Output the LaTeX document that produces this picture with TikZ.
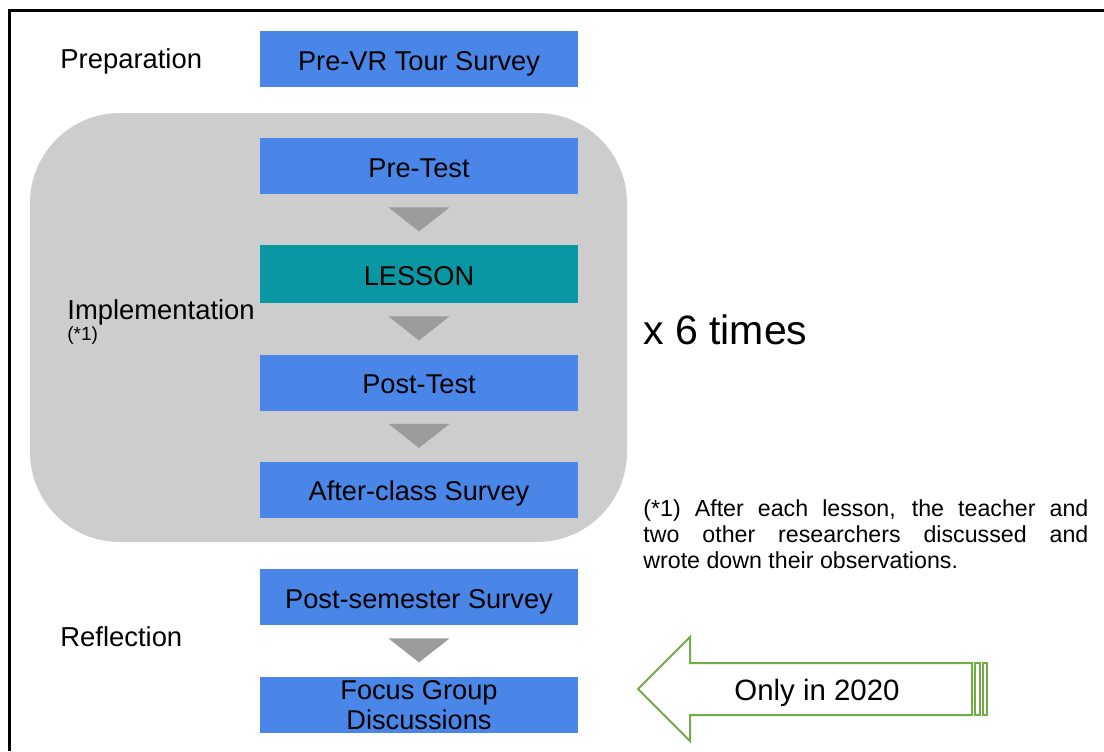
\documentclass[tikz,border=0pt]{standalone}
\usepackage{fontspec}
\setmainfont{Liberation Sans}
\definecolor{boxblue}{HTML}{4A86E8}
\definecolor{lessonteal}{HTML}{0A97A4}
\definecolor{phasegray}{HTML}{CDCDCD}
\definecolor{trigray}{HTML}{9C9C9C}
\definecolor{notegreen}{HTML}{70AD47}

\begin{document}
\begin{tikzpicture}[x=0.5pt,y=-0.5pt,
    stepbox/.style={shape=rectangle,fill=boxblue,minimum width=159pt,minimum height=28pt,inner sep=0pt,text height=12pt,text depth=0.7pt,font=\fontsize{13.6}{15}\selectfont},
    phase/.style={anchor=west,inner sep=0pt,font=\fontsize{13.7}{15}\selectfont},
    tri/.style={fill=trigray},
    arrowline/.style={draw=notegreen,line width=1pt}]
    \useasboundingbox (0,0) rectangle (1104,751);
    \draw[line width=1.5pt] (9.5,751) -- (9.5,10) -- (1104,10);
    % implementation block
    \node[shape=rectangle,fill=phasegray,rounded corners=45pt,minimum width=298.5pt,minimum height=214.5pt] (impl) at (328.5,327.5) {};
    % steps
    \node[stepbox] (survey) at (419,59) {Pre-VR Tour Survey};
    \node[stepbox] (pre) at (419,166) {Pre-Test};
    \node[stepbox,fill=lessonteal,minimum height=29pt] (lesson) at (419,274) {LESSON};
    \node[stepbox] (post) at (419,382.5) {Post-Test};
    \node[stepbox] (after) at (419,489.5) {After-class Survey};
    \node[stepbox] (postsem) at (419,597) {Post-semester Survey};
    \node[stepbox,align=center,text height=,text depth=,font=\fontsize{13.6}{15}\selectfont] (focus) at (419,705) {Focus Group\\Discussions};
    \foreach \a in {pre,lesson,post,postsem}
        \fill[tri] (\a.south) ++(-30.5,13) -- ++(61,0) -- ++(-30.5,24) -- cycle;
    % phase labels
    \node[phase] (prep) at (60,61) {Preparation};
    \node[phase] (implabel) at (67,312) {Implementation};
    \node[phase,font=\fontsize{9.5}{11}\selectfont] (star) at (67,336) {(*1)};
    \node[phase] (refl) at (60,637) {Reflection};
    \node[phase,font=\fontsize{20.5}{24}\selectfont] (times) at (643,330) {x 6 times};
    \node[anchor=west,inner sep=0pt,text width=222.5pt,align=justify,font=\fontsize{11.6}{13}\selectfont] (note) at (643,534)
        {(*1) After each lesson, the teacher and\linebreak two other researchers discussed and\linebreak wrote down their observations.};
    % only in 2020
    \draw[arrowline] (638,689) -- (690,637) -- (690,663) -- (972,663) -- (972,715) -- (690,715) -- (690,741) -- cycle;
    \draw[arrowline] (975,663) rectangle (980,715);
    \draw[arrowline] (983,663) rectangle (987,715);
    \node[font=\fontsize{14.7}{17}\selectfont] (only) at (817,693) {Only in 2020};
\end{tikzpicture}
\end{document}
